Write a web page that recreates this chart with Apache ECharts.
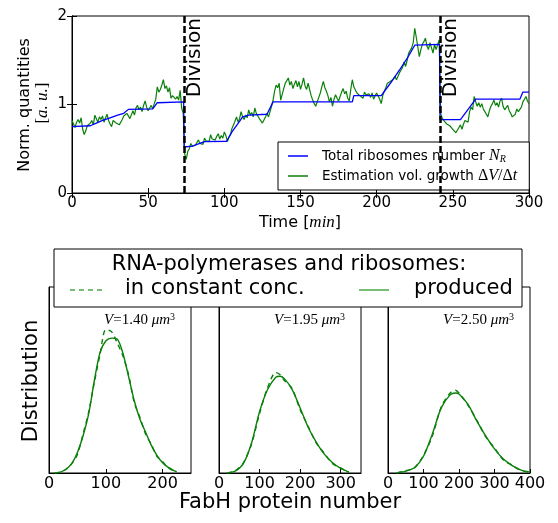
<!DOCTYPE html>
<html>
<head>
<meta charset="utf-8">
<script src="https://cdn.jsdelivr.net/npm/echarts@6/dist/echarts.min.js"></script>
<style>
  html, body { margin: 0; padding: 0; background: #fff; }
  #chart { width: 558px; height: 523px; }
</style>
</head>
<body>
<div id="chart"></div>
<script>
// top panel: ribosome number (step-like) and volume growth estimate (one value per minute)
var riboTime = [0, 12, 16, 20, 25, 30, 34, 37, 53, 56, 73.3, 73.6, 79, 87, 101.5, 105, 110, 112, 116, 128,
  132, 184, 185, 203, 209, 215, 220, 225, 241.3, 241.6, 255, 265, 294, 296, 300];
var riboLevel = [0.75, 0.76, 0.79, 0.82, 0.85, 0.88, 0.90, 0.945, 0.95, 1.02, 1.03, 0.52, 0.53, 0.58, 0.585, 0.69, 0.81, 0.86, 0.88, 0.89,
  1.03, 1.03, 1.10, 1.10, 1.24, 1.39, 1.52, 1.67, 1.68, 0.83, 0.83, 1.06, 1.06, 1.14, 1.14];
var growthEstimate = [
  0.82, 0.78, 0.74, 0.80, 0.83, 0.79, 0.85, 0.72, 0.66, 0.70,
  0.76, 0.74, 0.79, 0.82, 0.77, 0.88, 0.84, 0.80, 0.86, 0.83,
  0.87, 0.80, 0.85, 0.89, 0.82, 0.78, 0.75, 0.82, 0.84, 0.79,
  0.80, 0.77, 0.75, 0.83, 0.87, 0.85, 0.90, 0.89, 0.84, 0.86,
  0.93, 0.88, 0.96, 0.99, 0.94, 0.97, 0.92, 0.99, 1.04, 0.97,
  0.93, 0.96, 0.99, 0.95, 1.01, 1.06, 1.20, 1.14, 1.17, 1.22,
  1.28, 1.18, 1.21, 1.14, 1.19, 1.07, 1.10, 1.12, 1.06, 1.09,
  1.05, 1.16, 0.96, 0.90, 0.44, 0.38, 0.47, 0.50, 0.56, 0.53,
  0.55, 0.54, 0.57, 0.60, 0.56, 0.58, 0.55, 0.62, 0.59, 0.60,
  0.58, 0.66, 0.61, 0.63, 0.60, 0.64, 0.67, 0.61, 0.65, 0.62,
  0.69, 0.65, 0.58, 0.63, 0.66, 0.73, 0.75, 0.81, 0.86, 0.80,
  0.84, 0.92, 0.86, 0.83, 0.88, 0.85, 0.94, 0.88, 0.91, 0.86,
  0.96, 0.90, 0.87, 0.84, 0.82, 0.79, 0.77, 0.86, 0.90, 0.86,
  0.92, 0.98, 1.05, 1.15, 1.22, 1.19, 1.24, 1.05, 1.07, 1.18,
  1.24, 1.27, 1.30, 1.22, 1.26, 1.18, 1.23, 1.27, 1.20, 1.26,
  1.17, 1.23, 1.30, 1.21, 1.17, 1.24, 1.22, 1.10, 1.05, 1.01,
  0.98, 0.96, 1.08, 1.13, 1.20, 1.26, 1.19, 1.15, 1.10, 1.03,
  1.08, 0.98, 1.06, 1.11, 1.07, 1.04, 1.09, 1.14, 1.18, 1.12,
  1.15, 1.07, 1.04, 1.17, 1.28, 1.20, 1.18, 1.13, 1.15, 1.10,
  1.12, 1.07, 1.14, 1.11, 1.09, 1.12, 1.08, 1.13, 1.06, 1.10,
  1.13, 1.12, 1.06, 1.01, 1.10, 1.15, 1.19, 1.24, 1.22, 1.26,
  1.24, 1.29, 1.32, 1.28, 1.30, 1.36, 1.39, 1.42, 1.48, 1.43,
  1.50, 1.58, 1.56, 1.64, 1.70, 1.86, 1.76, 1.65, 1.54, 1.62,
  1.68, 1.71, 1.75, 1.66, 1.62, 1.70, 1.64, 1.58, 1.68, 1.62,
  1.60, 1.73, 0.90, 0.85, 0.82, 0.81, 0.78, 0.80, 0.76, 0.75,
  0.72, 0.71, 0.68, 0.70, 0.74, 0.77, 0.72, 0.78, 0.82, 0.84,
  0.80, 0.92, 0.97, 0.94, 1.09, 1.03, 0.98, 1.02, 0.97, 1.01,
  0.95, 0.92, 0.89, 0.86, 0.93, 0.98, 1.01, 1.05, 0.99, 1.02,
  0.97, 1.04, 1.07, 0.98, 0.94, 0.96, 0.99, 0.93, 0.90, 0.86,
  0.84, 0.89, 0.95, 0.92, 0.90, 0.97, 1.03, 1.06, 1.09, 1.04, 1.01
];
var divisionTimes = [73.5, 241.5];

// bottom panels: FabH distributions (relative height)
var volumeLabels = ['1.40', '1.95', '2.50'];
var fabhMax = [250, 350, 400];
var fabhX1 = [10, 20, 30, 40, 50, 60, 70, 80, 90, 100, 110, 120, 130, 140, 150, 160, 170, 180, 190, 200, 210, 220, 225];
var produced1 = [0, 0.005, 0.02, 0.05, 0.11, 0.2, 0.32, 0.5, 0.65, 0.71, 0.725, 0.72, 0.645, 0.52, 0.39, 0.29, 0.22, 0.15, 0.095, 0.055, 0.03, 0.013, 0.006];
var constant1 = [0, 0.006, 0.02, 0.05, 0.10, 0.21, 0.33, 0.49, 0.64, 0.77, 0.76, 0.70, 0.63, 0.53, 0.38, 0.30, 0.21, 0.155, 0.09, 0.06, 0.028, 0.012, 0.005];
var fabhX2 = [20, 40, 60, 80, 100, 120, 140, 150, 160, 180, 200, 220, 240, 260, 280, 300, 320];
var produced2 = [0, 0.01, 0.05, 0.16, 0.33, 0.45, 0.515, 0.52, 0.51, 0.45, 0.35, 0.245, 0.165, 0.10, 0.055, 0.025, 0.005];
var constant2 = [0, 0.012, 0.055, 0.155, 0.32, 0.46, 0.54, 0.53, 0.50, 0.455, 0.34, 0.25, 0.16, 0.105, 0.05, 0.027, 0.004];
var fabhX3 = [25, 50, 75, 100, 125, 150, 175, 190, 200, 225, 250, 275, 300, 325, 350, 375, 400];
var produced3 = [0, 0.01, 0.03, 0.09, 0.21, 0.35, 0.42, 0.43, 0.425, 0.37, 0.28, 0.2, 0.13, 0.075, 0.04, 0.015, 0.005];
var constant3 = [0, 0.012, 0.028, 0.095, 0.20, 0.355, 0.43, 0.445, 0.43, 0.365, 0.285, 0.195, 0.135, 0.07, 0.042, 0.013, 0.004];

var fabhX = [fabhX1, fabhX2, fabhX3];
var producedCurves = [produced1, produced2, produced3];
var constantCurves = [constant1, constant2, constant3];

var SANS = 'DejaVu Sans';
var SERIF = 'Liberation Serif';
var GREEN = '#0a800a';

function pairs(xs, ys) {
  return xs.map(function (x, i) { return [x, ys[i]]; });
}

var myChart = echarts.init(document.getElementById('chart'));

var panelLeft = [49, 219, 388];
var grids = [{ left: 72, top: 16, width: 457, height: 177 }];
panelLeft.forEach(function (l) {
  grids.push({ left: l, top: 287, width: 142, height: 186 });
});
grids.forEach(function (g) {
  g.show = true;
  g.borderColor = '#000';
  g.borderWidth = 1;
  g.backgroundColor = 'transparent';
  g.containLabel = false;
  g.outerBoundsMode = 'none';
});

var blackLine = { show: true, lineStyle: { color: '#000', width: 1 } };

// axes 0/1: top panel (bottom + top copy), 2..4: bottom panels
var xAxes = [
  {
    gridIndex: 0, type: 'value', min: 0, max: 300, interval: 50,
    axisLine: blackLine, splitLine: { show: false },
    axisTick: { inside: true, length: 5, lineStyle: { color: '#000' } },
    axisLabel: { color: '#000', fontSize: 15, fontFamily: SANS, margin: 3 }
  },
  {
    gridIndex: 0, type: 'value', position: 'top', min: 0, max: 300, interval: 50,
    axisLine: blackLine, splitLine: { show: false },
    axisTick: { inside: true, length: 5, lineStyle: { color: '#000' } },
    axisLabel: { show: false }
  }
];
var yAxes = [
  {
    gridIndex: 0, type: 'value', min: 0, max: 2, interval: 1,
    axisLine: blackLine, splitLine: { show: false },
    axisTick: { inside: true, length: 5, lineStyle: { color: '#000' } },
    axisLabel: { color: '#000', fontSize: 15, fontFamily: SANS, margin: 5 }
  },
  {
    gridIndex: 0, type: 'value', position: 'right', min: 0, max: 2, interval: 1,
    axisLine: blackLine, splitLine: { show: false },
    axisTick: { inside: true, length: 5, lineStyle: { color: '#000' } },
    axisLabel: { show: false }
  }
];
for (var p = 0; p < 3; p++) {
  xAxes.push({
    gridIndex: p + 1, type: 'value', min: 0, max: fabhMax[p], interval: 100,
    axisLine: blackLine, splitLine: { show: false },
    axisTick: { inside: true, length: 4, lineStyle: { color: '#000' } },
    axisLabel: { color: '#000', fontSize: 16, fontFamily: SANS, margin: 3, showMaxLabel: p === 2 }
  });
  yAxes.push({
    gridIndex: p + 1, type: 'value', min: 0, max: 1,
    axisLine: blackLine, splitLine: { show: false },
    axisTick: { show: false }, axisLabel: { show: false }
  });
}

var series = [
  {
    name: 'ribo', type: 'line', xAxisIndex: 0, yAxisIndex: 0,
    data: pairs(riboTime, riboLevel), symbol: 'none',
    lineStyle: { color: '#0000ff', width: 1.3 }, itemStyle: { color: '#0000ff' },
    z: 3,
    markLine: {
      silent: true, symbol: ['none', 'none'], label: { show: false },
      lineStyle: { color: '#000', type: [7, 3], width: 2.5 },
      data: divisionTimes.map(function (t) { return { xAxis: t }; })
    }
  },
  {
    name: 'growth', type: 'line', xAxisIndex: 0, yAxisIndex: 0,
    data: growthEstimate.map(function (v, i) { return [i, v]; }), symbol: 'none',
    lineStyle: { color: GREEN, width: 1.2 }, itemStyle: { color: GREEN },
    z: 2
  }
];
for (var q = 0; q < 3; q++) {
  series.push({
    name: 'const' + q, type: 'line', xAxisIndex: q + 2, yAxisIndex: q + 2,
    data: pairs(fabhX[q], constantCurves[q]), symbol: 'none', smooth: 0.3,
    lineStyle: { color: GREEN, width: 1.4, type: [5, 4] }
  });
  series.push({
    name: 'prod' + q, type: 'line', xAxisIndex: q + 2, yAxisIndex: q + 2,
    data: pairs(fabhX[q], producedCurves[q]), symbol: 'none', smooth: 0.3,
    lineStyle: { color: GREEN, width: 1.4 }
  });
}

var option = {
  animation: false,
  backgroundColor: '#fff',
  grid: grids,
  xAxis: xAxes,
  yAxis: yAxes,
  legend: {
    data: ['ribo', 'growth'],
    orient: 'vertical', left: 278, top: 142,
    borderColor: '#000', borderWidth: 1, borderRadius: 0,
    backgroundColor: '#fff',
    padding: [6, 12, 6, 10], itemGap: 4,
    icon: 'rect', itemWidth: 20, itemHeight: 1.5,
    formatter: function (name) {
      return name === 'ribo'
        ? 'Total ribosomes number {i|N}{sub|R}'
        : 'Estimation vol. growth {m|Δ}{i|V}{m|/Δ}{i|t}';
    },
    textStyle: {
      color: '#000', fontSize: 13.5, fontFamily: SANS, padding: [0, 0, 0, 9],
      rich: {
        i: { color: '#000', fontFamily: SERIF, fontStyle: 'italic', fontSize: 16 },
        m: { color: '#000', fontFamily: SERIF, fontSize: 16 },
        sub: { color: '#000', fontFamily: SERIF, fontStyle: 'italic', fontSize: 10, verticalAlign: 'bottom' }
      }
    }
  },
  series: series
};

option && myChart.setOption(option);

// texts and the bottom legend box
var graphics = [];
graphics.push({
  type: 'text', x: 25, y: 105, rotation: Math.PI / 2, z: 50,
  style: { text: 'Norm. quantities', fontSize: 16, fontFamily: SANS, fill: '#000', align: 'center', verticalAlign: 'middle' }
});
graphics.push({
  type: 'text', x: 43, y: 103, rotation: Math.PI / 2, z: 50,
  style: {
    text: '{b|[}{i|a. u.}{b|]}', align: 'center', verticalAlign: 'middle', fill: '#000',
    rich: {
      b: { fontFamily: SERIF, fontSize: 17, fill: '#000' },
      i: { fontFamily: SERIF, fontStyle: 'italic', fontSize: 17, fill: '#000' }
    }
  }
});
graphics.push({
  type: 'text', x: 300, y: 223, z: 50,
  style: {
    text: '{t|Time [}{i|min}{t|]}', align: 'center', verticalAlign: 'middle', fill: '#000',
    rich: {
      t: { fontFamily: SANS, fontSize: 16, fill: '#000' },
      i: { fontFamily: SERIF, fontStyle: 'italic', fontSize: 17, fill: '#000' }
    }
  }
});
graphics.push({
  type: 'text', x: 32, y: 381, rotation: Math.PI / 2, z: 50,
  style: { text: 'Distribution', fontSize: 21, fontFamily: SANS, fill: '#000', align: 'center', verticalAlign: 'middle' }
});
graphics.push({
  type: 'text', x: 290, y: 503, z: 50,
  style: { text: 'FabH protein number', fontSize: 21, fontFamily: SANS, fill: '#000', align: 'center', verticalAlign: 'middle' }
});
for (var k = 0; k < 3; k++) {
  graphics.push({
    type: 'text', x: panelLeft[k] + 142 - 16, y: 320, z: 50,
    style: {
      text: '{i|V}{r|=' + volumeLabels[k] + ' }{i|μm}{s|3}', align: 'right', verticalAlign: 'middle', fill: '#000',
      rich: {
        i: { fontFamily: SERIF, fontStyle: 'italic', fontSize: 15, fill: '#000' },
        r: { fontFamily: SERIF, fontSize: 15, fill: '#000' },
        s: { fontFamily: SERIF, fontSize: 10, fill: '#000', verticalAlign: 'top' }
      }
    }
  });
}
// bottom legend
graphics.push({
  type: 'rect', z: 60, shape: { x: 54, y: 249, width: 468, height: 58 },
  style: { fill: '#fff', stroke: '#000', lineWidth: 1 }
});
graphics.push({
  type: 'text', x: 289, y: 265, z: 61,
  style: { text: 'RNA-polymerases and ribosomes:', fontSize: 21, fontFamily: SANS, fill: '#000', align: 'center', verticalAlign: 'middle' }
});
graphics.push({
  type: 'line', z: 61, shape: { x1: 70, y1: 290, x2: 102, y2: 290 },
  style: { stroke: '#4aa84a', lineWidth: 1.5, lineDash: [5, 4] }
});
graphics.push({
  type: 'text', x: 125, y: 289, z: 61,
  style: { text: 'in constant conc.', fontSize: 21, fontFamily: SANS, fill: '#000', align: 'left', verticalAlign: 'middle' }
});
graphics.push({
  type: 'line', z: 61, shape: { x1: 359, y1: 290, x2: 389, y2: 290 },
  style: { stroke: '#4aa84a', lineWidth: 1.5 }
});
graphics.push({
  type: 'text', x: 414, y: 289, z: 61,
  style: { text: 'produced', fontSize: 21, fontFamily: SANS, fill: '#000', align: 'left', verticalAlign: 'middle' }
});
// "Division" labels next to the dashed lines
divisionTimes.forEach(function (t) {
  var px = myChart.convertToPixel({ xAxisIndex: 0 }, t);
  graphics.push({
    type: 'text', x: px + 1, y: 18, rotation: Math.PI / 2, z: 50,
    style: { text: 'Division', fontSize: 20, fontFamily: SANS, fill: '#000', align: 'right', verticalAlign: 'top' }
  });
});

myChart.setOption({ graphic: graphics });
</script>
</body>
</html>
